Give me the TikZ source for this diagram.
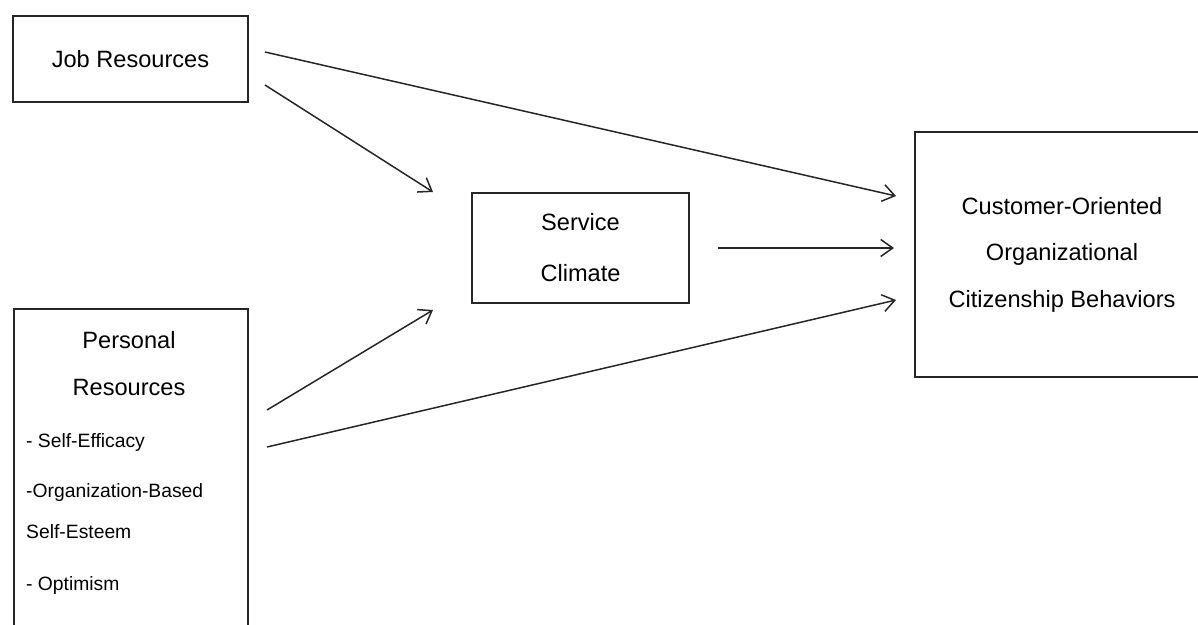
\documentclass[tikz,border=0pt]{standalone}
\usepackage{fontspec}
\setmainfont{Liberation Sans}
\usetikzlibrary{arrows.meta}
\begin{document}
\begin{tikzpicture}[x=1pt,y=-1pt,
  box/.style={draw=black!85, line width=1.4pt, inner sep=0pt},
  lbl/.style={inner sep=0pt, font=\fontsize{23.6}{27}\selectfont},
  itm/.style={inner sep=0pt, anchor=west, font=\fontsize{19.3}{22}\selectfont},
  conn/.style={line width=1.5pt, draw=black!85, -{Straight Barb[length=12pt,width=17pt,line width=1.5pt]}}]
\useasboundingbox (0,0) rectangle (1198,624);
\clip (0,0) rectangle (1198,624);
% boxes
\node[box, minimum width=235, minimum height=86, font=\fontsize{23.6}{27}\selectfont] (job) at (130.5,59) {Job Resources};
\node[box, minimum width=234, minimum height=340] (pers) at (131,479) {};
\node[box, minimum width=217, minimum height=110, align=center, font=\fontsize{23.6}{51}\selectfont] (sc) at (580.5,248) {Service\\Climate};
\node[box, minimum width=294, minimum height=245, align=center, font=\fontsize{23.6}{46.5}\selectfont] (cob) at (1062,254.5) {Customer-Oriented\\Organizational\\Citizenship Behaviors};
% personal resources text
\node[lbl] (pt1) at (129,340) {Personal};
\node[lbl] (pt2) at (129,387) {Resources};
\node[itm] (i1) at (26,443) {- Self-Efficacy};
\node[itm] (i2) at (26,493) {-Organization-Based};
\node[itm] (i3) at (26,532) {Self-Esteem};
\node[itm] (i4) at (26,585) {- Optimism};
% connector end points
\coordinate (j1) at (265,52);
\coordinate (j2) at (265,85);
\coordinate (s1) at (718,248);
\coordinate (p1) at (267,410);
\coordinate (p2) at (267,447);
\coordinate (c1) at (896,196);
\coordinate (c2) at (894,248);
\coordinate (c3) at (896,300);
\coordinate (sc1) at (433,192);
\coordinate (sc2) at (433,310);
% connectors
\draw[conn] (j1) -- (c1);
\draw[conn] (j2) -- (sc1);
\draw[conn] (s1) -- (c2);
\draw[conn] (p1) -- (sc2);
\draw[conn] (p2) -- (c3);
\end{tikzpicture}
\end{document}
